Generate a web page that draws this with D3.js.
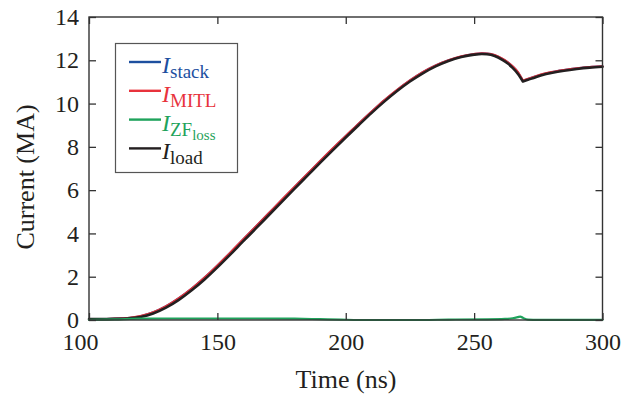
<!DOCTYPE html>
<html><head><meta charset="utf-8">
<script src="https://cdn.jsdelivr.net/npm/d3@7"></script>
<style>body{margin:0;background:#fff}svg{display:block}text{font-family:"Liberation Serif","Times New Roman",serif;fill:#231f20}</style>
</head><body><svg id="c" width="637" height="395"></svg>
<script>
const time   = [100,105,110,115,120,125,130,135,140,145,150,155,160,165,170,175,180,185,190,195,200,205,210,215,220,225,230,235,240,245,250,253,255,258,261,263,265,267,269,271,274,277,280,285,290,295,300];
const iLoad  = [0.04,0.04,0.05,0.07,0.14,0.3,0.57,0.93,1.37,1.87,2.43,3.02,3.63,4.23,4.84,5.45,6.06,6.66,7.26,7.85,8.43,9.0,9.56,10.09,10.58,11.02,11.4,11.72,11.97,12.15,12.26,12.29,12.28,12.2,12.02,11.86,11.65,11.38,11.02,11.1,11.22,11.33,11.41,11.52,11.6,11.66,11.7];
const iMITL  = [0.04,0.04,0.06,0.09,0.18,0.36,0.64,1.01,1.45,1.96,2.52,3.11,3.72,4.32,4.93,5.54,6.14,6.74,7.34,7.93,8.5,9.07,9.62,10.15,10.63,11.07,11.45,11.76,12.0,12.18,12.29,12.32,12.31,12.24,12.07,11.92,11.72,11.46,11.06,11.14,11.26,11.37,11.45,11.55,11.63,11.69,11.72];
const iStack = [0.04,0.04,0.06,0.09,0.18,0.36,0.64,1.01,1.45,1.96,2.52,3.11,3.72,4.32,4.93,5.54,6.14,6.74,7.34,7.93,8.5,9.07,9.62,10.15,10.63,11.07,11.45,11.76,12.0,12.18,12.29,12.32,12.31,12.24,12.07,11.92,11.72,11.46,11.06,11.14,11.26,11.37,11.45,11.55,11.63,11.69,11.72];
const zfTime = [100,110,120,135,150,165,180,190,198,205,230,240,255,262,265,267,268,269,271,275,300];
const iZF    = [0.01,0.03,0.06,0.07,0.07,0.07,0.06,0.04,0.02,0.0,0.0,0.02,0.03,0.05,0.08,0.13,0.16,0.1,0.02,0.01,0.01];
const xTicks = [100,150,200,250,300];
const yTicks = [0,2,4,6,8,10,12,14];
const cuspTime = 269;

const L=89,R=602.5,T=17,B=320;
const svg=d3.select("#c");
const x=d3.scaleLinear().domain([100,300]).range([L,R]);
const y=d3.scaleLinear().domain([0,14]).range([B,T]);
const gen=d3.line().x(d=>x(d[0])).y(d=>y(d[1])).curve(d3.curveMonotoneX);
function pathOf(xs,ys,split){
  const pts=xs.map((t,i)=>[t,ys[i]]);
  if(split==null) return gen(pts);
  const k=xs.indexOf(split);
  return gen(pts.slice(0,k+1))+gen(pts.slice(k));
}

const g=svg.append("g").attr("fill","none").attr("stroke-linejoin","round").attr("stroke-linecap","round");
g.append("path").attr("d",pathOf(time,iStack,cuspTime)).attr("stroke","#1d4f9f").attr("stroke-width",2);
g.append("path").attr("d",pathOf(time,iMITL,cuspTime)).attr("stroke","#e8333c").attr("stroke-width",2.2);
g.append("path").attr("d",pathOf(time,iLoad,cuspTime)).attr("stroke","#231f20").attr("stroke-width",2.6);
g.append("path").attr("d",pathOf(zfTime,iZF,null)).attr("stroke","#1fa35c").attr("stroke-width",2.2);

const tk=7, ac="#333";
const styleAxis=(a,withText)=>{a.select(".domain").remove();a.selectAll("line").attr("stroke",ac).attr("stroke-width",1.3);
  if(withText) a.selectAll("text").attr("font-size",24).attr("font-family","Liberation Serif").attr("fill","#231f20");};
svg.append("g").attr("transform",`translate(0,${B})`).call(d3.axisBottom(x).tickValues(xTicks).tickSize(-tk).tickPadding(13).tickFormat(d3.format("d")))
  .call(a=>styleAxis(a,true))
  .call(a=>a.selectAll(".tick text").filter(d=>d===xTicks[0]).attr("dx",-9));
svg.append("g").attr("transform",`translate(0,${T})`).call(d3.axisTop(x).tickValues(xTicks).tickSize(-tk).tickFormat("")).call(a=>styleAxis(a,false));
svg.append("g").attr("transform",`translate(${L},0)`).call(d3.axisLeft(y).tickValues(yTicks).tickSize(-tk).tickPadding(10).tickFormat(d3.format("d"))).call(a=>styleAxis(a,true));
svg.append("g").attr("transform",`translate(${R},0)`).call(d3.axisRight(y).tickValues(yTicks).tickSize(-tk).tickFormat("")).call(a=>styleAxis(a,false));
svg.append("rect").attr("x",L).attr("y",T).attr("width",R-L).attr("height",B-T).attr("fill","none").attr("stroke",ac).attr("stroke-width",1.4);

svg.append("text").attr("x",346).attr("y",388).attr("text-anchor","middle").attr("font-size",26).text("Time (ns)");
svg.append("text").attr("transform","translate(34,177) rotate(-90)").attr("text-anchor","middle").attr("font-size",26).text("Current (MA)");

const lg=svg.append("g");
lg.append("rect").attr("x",115.5).attr("y",43.5).attr("width",122).attr("height",129).attr("fill","#fff").attr("stroke","#555").attr("stroke-width",1.2);
const items=[{c:"#1d4f9f",s:"stack"},{c:"#e8333c",s:"MITL"},{c:"#1fa35c",s:"ZF",ss:"loss"},{c:"#231f20",s:"load"}];
items.forEach((d,i)=>{
  const yy=62+i*28.8;
  lg.append("line").attr("x1",129).attr("x2",161).attr("y1",yy).attr("y2",yy).attr("stroke",d.c).attr("stroke-width",2.4);
  const t=lg.append("text").attr("x",162).attr("y",yy+11).attr("font-size",24).style("fill",d.c);
  t.append("tspan").attr("font-style","italic").text("I");
  t.append("tspan").attr("font-size",19).attr("dy",5).text(d.s);
  if(d.ss) t.append("tspan").attr("font-size",15).attr("dy",4).text(d.ss);
});
</script></body></html>
